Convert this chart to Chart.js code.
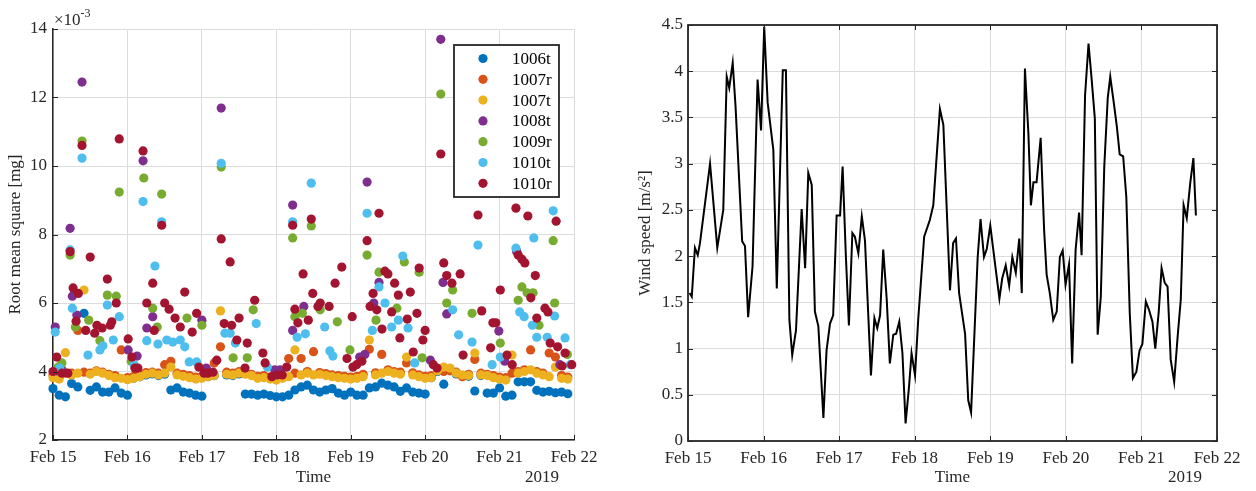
<!DOCTYPE html>
<html>
<head>
<meta charset="utf-8">
<script src="https://cdn.jsdelivr.net/npm/chart.js@4.4.1/dist/chart.umd.min.js"></script>
<style>
  html, body { margin: 0; padding: 0; background: #fff; }
  #wrap { position: relative; width: 1256px; height: 491px; }
  canvas { position: absolute; top: 0; }
  #rms { left: 0; }
  #wind { left: 628px; }
</style>
</head>
<body>
<div id="wrap">
  <canvas id="rms" width="628" height="491"></canvas>
  <canvas id="wind" width="628" height="491"></canvas>
</div>
<script>
// ---- data (RMS values are in units of 1e-3 mg, x in days after Feb 15) ----
const sensors = ['1006t', '1007r', '1007t', '1008t', '1009r', '1010t', '1010r'];
const sensorColors = ['#0072BD', '#D95319', '#EDB120', '#7E2F8E', '#77AC30', '#4DBEEE', '#A2142F'];
const dayLabels = ['Feb 15', 'Feb 16', 'Feb 17', 'Feb 18', 'Feb 19', 'Feb 20', 'Feb 21', 'Feb 22'];

// 2-hourly samples for the three dense sensors
const bandHours = [0,2,4,6,8,10,12,14,16,18,20,22,24,26,28,30,32,34,36,38,40,42,44,46,
  48,50,52,54,56,58,60,62,64,66,68,70,72,74,76,78,80,82,84,86,88,90,92,94,
  96,98,100,102,104,106,108,110,112,114,116,118,120,122,124,126,128,130,132,134,136,138,140,142,
  144,146,148,150,152,154,156,158,160,162,164,166];

const rms1006t = [3.50,3.31,3.26,3.65,3.55,5.70,3.45,3.55,3.40,3.40,3.52,3.37,
  3.31,3.80,3.85,3.90,3.93,3.88,3.92,3.46,3.52,3.40,3.37,3.31,
  3.28,3.85,3.88,null,3.90,3.88,3.93,3.34,3.34,3.31,3.34,3.30,
  3.26,3.26,3.31,3.46,3.55,3.60,3.46,3.40,3.46,3.50,3.37,3.31,
  3.40,3.31,3.31,3.52,3.55,3.66,3.60,3.55,3.42,3.52,3.40,3.37,
  3.34,3.82,4.00,3.63,4.08,3.93,3.88,3.86,3.43,3.88,3.37,3.37,
  3.52,3.28,3.31,3.70,3.70,3.70,3.45,3.40,3.42,3.38,3.40,3.35];

const rms1007r = [3.90,3.85,3.95,3.95,5.20,3.98,3.95,4.02,3.98,3.92,3.88,4.63,
  3.82,3.86,3.92,3.97,3.98,3.95,4.20,4.30,3.95,3.92,3.88,3.84,
  3.86,3.92,4.25,4.72,3.98,3.95,4.00,3.96,3.92,3.86,3.88,3.84,
  3.82,3.86,4.38,3.95,4.38,4.00,4.58,3.97,3.94,3.90,3.88,3.86,
  3.84,3.86,3.92,4.65,3.96,4.50,4.05,4.00,3.98,4.25,3.96,3.90,
  3.86,3.88,4.05,4.00,4.02,3.98,3.85,3.92,4.35,3.95,3.92,3.88,
  3.84,3.82,3.95,4.00,4.05,4.63,4.00,3.95,4.54,4.42,3.88,3.84];

const rms1007t = [3.82,3.78,4.55,3.90,3.95,6.38,3.92,4.00,3.95,3.88,3.82,3.80,
  3.76,3.80,3.85,3.92,3.95,3.90,3.95,4.13,3.90,3.86,3.82,3.78,
  3.80,3.85,3.88,5.77,3.92,3.90,3.95,3.92,3.88,3.80,3.82,3.78,
  3.75,3.80,3.85,4.63,3.90,3.95,3.90,3.92,3.88,3.85,3.82,3.80,
  3.78,3.80,3.85,4.92,3.90,3.95,4.00,3.95,3.92,4.42,3.90,3.85,
  3.80,3.82,4.02,4.13,4.10,3.95,3.90,3.88,4.54,3.90,3.88,3.82,
  3.78,3.75,4.48,3.95,4.00,4.05,3.95,3.90,3.85,4.13,3.80,3.78];

// sparse sensors: time (days) and value
const days1008t = [0.03,0.05,0.12,0.23,0.26,0.32,0.39,1.01,1.13,1.21,1.26,1.34,2.00,2.06,2.26,
  2.98,3.05,3.22,3.22,3.37,4.12,4.19,4.22,4.31,4.38,5.07,5.21,5.24,5.29,5.99,6.07,6.23,6.81];
const rms1008t = [5.30,4.02,4.05,8.18,6.20,5.65,12.45,4.63,4.45,10.15,5.27,5.60,5.50,4.10,11.69,
  4.05,4.05,8.86,5.20,5.90,4.42,4.50,9.53,6.00,6.60,4.33,13.70,6.60,5.68,5.18,4.30,7.50,4.20];

const days1009r = [0.07,0.12,0.23,0.30,0.39,0.48,0.63,0.73,0.85,0.89,1.05,1.22,1.34,1.40,1.46,
  1.80,2.00,2.26,2.42,2.61,2.69,3.22,3.25,3.35,3.47,3.59,3.82,3.99,4.22,4.34,4.38,4.62,4.72,
  4.92,4.96,5.21,5.29,5.37,5.63,6.01,6.25,6.30,6.37,6.45,6.53,6.72,6.74,6.91];
const rms1009r = [4.13,4.25,7.40,5.30,10.73,5.50,4.90,6.23,6.20,9.24,4.30,9.65,5.85,5.30,9.18,
  5.56,5.35,9.97,4.40,4.40,5.80,7.90,5.60,5.70,8.25,5.80,5.45,4.63,7.40,5.50,6.90,5.85,7.20,
  6.90,4.40,12.10,6.00,6.38,5.70,4.83,6.08,6.47,6.30,6.30,5.35,7.82,6.00,4.50];

const days1010t = [0.03,0.09,0.23,0.26,0.39,0.47,0.63,0.67,0.73,0.81,0.89,1.09,1.21,1.26,1.37,
  1.41,1.46,1.53,1.61,1.71,1.77,1.83,1.93,2.26,2.31,2.38,2.45,2.73,2.88,3.22,3.28,3.39,3.47,
  3.65,3.72,3.76,4.22,4.29,4.38,4.46,4.55,4.64,4.70,4.77,4.86,5.37,5.45,5.63,5.71,5.90,6.01,
  6.22,6.27,6.33,6.44,6.46,6.50,6.64,6.72,6.74,6.88,6.95];
const rms1010t = [5.15,4.10,7.55,5.85,10.23,4.48,4.63,4.75,5.94,4.92,5.60,4.20,8.96,4.90,7.08,
  4.80,8.37,4.92,4.86,4.92,4.72,4.28,4.28,10.08,5.12,5.12,4.83,5.40,4.13,8.37,5.00,5.10,9.50,
  5.30,4.60,4.45,8.62,5.20,6.47,6.00,5.30,5.50,7.37,5.27,4.25,5.80,5.07,4.86,7.69,4.20,4.42,
  7.60,5.74,5.60,5.35,7.90,5.00,5.00,8.69,5.62,4.98,4.20];

const days1010r = [0.00,0.05,0.12,0.20,0.23,0.27,0.31,0.34,0.39,0.44,0.50,0.56,0.59,0.66,0.73,
  0.77,0.79,0.85,0.89,1.01,1.06,1.10,1.14,1.21,1.26,1.34,1.36,1.46,1.50,1.56,1.64,1.71,1.77,
  1.87,1.93,1.96,2.03,2.08,2.15,2.20,2.26,2.30,2.38,2.40,2.47,2.50,2.58,2.61,2.71,2.82,2.85,
  2.94,3.01,3.08,3.14,3.22,3.25,3.29,3.36,3.43,3.47,3.49,3.56,3.59,3.71,3.79,3.88,3.95,4.02,
  4.03,4.08,4.15,4.22,4.26,4.30,4.35,4.38,4.42,4.46,4.50,4.55,4.59,4.64,4.66,4.76,4.80,4.84,
  4.89,4.92,4.97,5.00,5.11,5.16,5.21,5.25,5.29,5.36,5.47,5.51,5.71,5.76,5.88,5.91,5.95,6.01,
  6.10,6.17,6.22,6.25,6.30,6.34,6.38,6.42,6.48,6.50,6.61,6.65,6.68,6.76,6.78,6.84,6.88,6.97];
const rms1010r = [4.00,4.42,3.95,3.95,7.50,6.44,5.47,6.28,10.60,5.20,7.34,5.12,5.35,5.27,6.70,
  5.35,5.45,6.00,10.79,4.95,4.42,4.10,4.10,10.44,6.00,6.58,5.20,8.27,6.00,5.82,5.56,5.30,6.32,
  5.15,5.70,4.13,3.95,3.95,3.98,4.33,7.87,5.40,7.20,5.35,4.92,5.56,4.10,4.83,6.08,4.54,4.25,
  3.85,3.90,3.90,4.13,8.27,5.82,5.42,6.85,5.50,8.45,6.28,5.90,6.00,5.90,6.58,7.05,4.38,5.60,
  4.13,4.20,4.30,7.82,5.90,6.28,5.80,8.62,5.24,6.93,6.85,5.74,6.58,6.23,4.98,5.53,6.32,4.57,
  5.70,7.02,4.92,5.20,4.20,4.10,10.35,7.17,6.80,6.58,6.85,4.48,8.57,5.77,4.69,5.42,5.42,6.38,
  4.48,4.20,8.77,7.40,7.28,7.17,8.54,6.15,6.80,5.56,5.85,5.74,4.83,8.39,4.72,4.16,4.54,4.20];

// wind speed: time (hours after Feb 15 00:00) and value
const windHours = [0.5,1.2,2.2,3.1,3.8,7.0,9.3,11.2,12.3,13.1,14.2,15.1,17.2,18.1,19.1,20.5,22.1,23.2,
  24.2,25.3,27.1,28.2,30.1,31.1,32.2,33.1,34.3,36.1,37.2,38.2,39.3,40.3,41.4,43.0,44.0,45.1,46.1,47.2,
  48.3,49.1,50.1,51.1,52.2,53.0,54.1,55.2,56.2,58.1,59.2,60.1,61.0,62.0,63.1,64.1,65.2,66.1,67.1,68.1,
  69.1,70.2,71.0,72.1,73.1,75.0,76.8,77.9,80.0,81.1,83.2,84.2,85.1,86.1,88.0,89.0,89.9,92.0,92.9,94.0,
  94.9,96.0,97.5,98.9,99.8,100.9,102.0,103.0,104.1,105.2,106.0,107.0,108.1,108.9,109.7,110.7,112.0,
  113.1,113.9,114.9,116.0,117.1,118.1,119.0,119.9,121.0,122.0,123.1,124.2,125.0,126.1,127.2,128.2,
  129.2,130.1,131.1,132.2,133.3,134.1,135.1,136.2,137.1,138.2,139.2,140.3,141.3,142.4,143.4,144.3,
  145.4,146.4,147.5,148.4,149.5,150.4,151.4,152.3,153.3,154.4,155.5,156.5,157.4,158.4,159.5,160.5,161.3];
const windSpeed = [1.60,1.56,2.09,2.01,2.14,3.00,2.09,2.50,3.94,3.82,4.09,3.62,2.16,2.11,1.34,1.89,3.91,3.36,
  4.48,3.66,3.15,1.65,4.01,4.01,1.31,0.93,1.20,2.51,1.87,2.90,2.77,1.40,1.24,0.25,0.98,1.27,1.36,2.44,
  2.44,2.97,2.03,1.25,2.25,2.21,2.03,2.43,2.17,0.71,1.33,1.22,1.36,2.07,1.54,0.84,1.15,1.16,1.29,0.95,
  0.19,0.59,0.95,0.71,1.31,2.21,2.39,2.55,3.59,3.42,1.63,2.14,2.19,1.60,1.16,0.44,0.31,1.99,2.40,1.99,
  2.08,2.33,1.92,1.54,1.76,1.90,1.68,1.99,1.82,2.19,1.60,4.03,3.33,2.55,2.80,2.80,3.28,
  2.28,1.80,1.60,1.31,1.40,1.99,2.06,1.69,1.91,0.84,2.07,2.47,2.01,3.74,4.30,3.91,
  3.49,1.15,1.56,2.97,3.71,3.94,3.69,3.40,3.10,3.08,2.64,1.38,0.68,0.75,0.98,1.05,
  1.51,1.42,1.29,1.00,1.40,1.87,1.71,1.67,0.88,0.64,1.13,1.53,2.55,2.41,2.79,3.06,2.44];

// ---- helpers ----
const serif = "'Liberation Serif', 'Times New Roman', serif";
Chart.defaults.font.family = serif;
Chart.defaults.font.size = 17;
Chart.defaults.color = '#262626';

const gridColor = '#dcdcdc';
const axisColor = '#262626';

function points(xs, ys) {
  const out = [];
  xs.forEach((x, i) => { if (ys[i] != null) out.push({ x: x, y: ys[i] }); });
  return out;
}

const bandDays = bandHours.map(h => h / 24);
const seriesXY = [
  points(bandDays, rms1006t),
  points(bandDays, rms1007r),
  points(bandDays, rms1007t),
  points(days1008t, rms1008t),
  points(days1009r, rms1009r),
  points(days1010t, rms1010t),
  points(days1010r, rms1010r)
];

// inward tick marks like matlab
function drawTicks(chart, sides, len) {
  const { ctx, chartArea: a, scales } = chart;
  ctx.save();
  ctx.strokeStyle = axisColor;
  ctx.lineWidth = 1;
  ctx.beginPath();
  scales.x.ticks.forEach(t => {
    const px = Math.round(scales.x.getPixelForValue(t.value)) + 0.5;
    if (sides.includes('bottom')) { ctx.moveTo(px, a.bottom); ctx.lineTo(px, a.bottom - len); }
    if (sides.includes('top')) { ctx.moveTo(px, a.top); ctx.lineTo(px, a.top + len); }
  });
  scales.y.ticks.forEach(t => {
    const py = Math.round(scales.y.getPixelForValue(t.value)) + 0.5;
    if (sides.includes('left')) { ctx.moveTo(a.left, py); ctx.lineTo(a.left + len, py); }
    if (sides.includes('right')) { ctx.moveTo(a.right, py); ctx.lineTo(a.right - len, py); }
  });
  ctx.stroke();
  ctx.restore();
}

function drawYear(chart) {
  const { ctx, chartArea: a } = chart;
  ctx.save();
  ctx.font = '17px ' + serif;
  ctx.fillStyle = axisColor;
  ctx.textAlign = 'right';
  ctx.textBaseline = 'middle';
  ctx.fillText('2019', a.right - 15, 478);
  ctx.restore();
}

const rmsDecor = {
  id: 'rmsDecor',
  afterDraw(chart) {
    const { ctx, chartArea: a } = chart;
    drawTicks(chart, ['left', 'bottom'], 5);
    drawYear(chart);

    // exponent label
    ctx.save();
    ctx.fillStyle = axisColor;
    ctx.textBaseline = 'alphabetic';
    ctx.font = '17px ' + serif;
    ctx.fillText('\u00d710', a.left + 1, 25);
    const w = ctx.measureText('\u00d710').width;
    ctx.font = '12px ' + serif;
    ctx.fillText('-3', a.left + 1 + w, 17);
    ctx.restore();

    // boxed legend inside the axes
    const x0 = a.right - 120, y0 = a.top + 16, bw = 105, bh = 152;
    ctx.save();
    ctx.fillStyle = '#fff';
    ctx.fillRect(x0, y0, bw, bh);
    ctx.strokeStyle = axisColor;
    ctx.lineWidth = 1.8;
    ctx.strokeRect(x0, y0, bw, bh);
    ctx.font = '17px ' + serif;
    ctx.textBaseline = 'middle';
    ctx.textAlign = 'left';
    chart.data.datasets.forEach((ds, i) => {
      const ry = y0 + 13.5 + i * 20.8;
      ctx.beginPath();
      ctx.fillStyle = ds.backgroundColor;
      ctx.arc(x0 + 29, ry, 4.6, 0, Math.PI * 2);
      ctx.fill();
      ctx.fillStyle = '#000';
      ctx.fillText(ds.label, x0 + 58, ry + 1);
    });
    ctx.restore();
  }
};

const windDecor = {
  id: 'windDecor',
  afterDraw(chart) {
    const { ctx, chartArea: a } = chart;
    drawTicks(chart, ['left', 'bottom', 'top', 'right'], 5);
    ctx.save();
    ctx.strokeStyle = axisColor;
    ctx.lineWidth = 1.8;
    ctx.strokeRect(a.left, a.top, a.right - a.left, a.bottom - a.top);
    ctx.restore();
    drawYear(chart);
  }
};

const xAxis = (h) => ({
  type: 'linear',
  min: 0,
  max: 7,
  ticks: { stepSize: 1, padding: 7, maxRotation: 0, autoSkip: false, callback: v => dayLabels[v] },
  grid: { color: gridColor, lineWidth: 1, drawTicks: false },
  title: { display: true, text: 'Time', padding: { top: 0, bottom: 3 } },
  afterFit: s => { s.height = h; }
});

// ---- left: RMS scatter ----
new Chart(document.getElementById('rms'), {
  type: 'scatter',
  data: {
    datasets: sensors.map((name, i) => ({
      label: name,
      data: seriesXY[i],
      backgroundColor: sensorColors[i],
      borderWidth: 0,
      pointRadius: 4.6,
      pointHoverRadius: 4.6,
      order: sensors.length - 1 - i,
      clip: false
    }))
  },
  options: {
    responsive: false,
    animation: false,
    devicePixelRatio: 1,
    layout: { padding: { top: 29, right: 54, left: 0, bottom: 0 } },
    plugins: { legend: { display: false }, tooltip: { enabled: false } },
    scales: {
      x: Object.assign(xAxis(51), { border: { color: axisColor, width: 1.5 } }),
      y: {
        min: 2,
        max: 14,
        ticks: { stepSize: 2, padding: 6 },
        grid: { color: gridColor, lineWidth: 1, drawTicks: false },
        border: { color: axisColor, width: 1.5 },
        title: { display: true, text: 'Root mean square [mg]', padding: { top: 5, bottom: 0 } },
        afterFit: s => { s.width = 53; }
      }
    }
  },
  plugins: [rmsDecor]
});

// ---- right: wind speed line ----
new Chart(document.getElementById('wind'), {
  type: 'line',
  data: {
    datasets: [{
      label: 'Wind speed',
      data: windHours.map((h, i) => ({ x: h / 24, y: windSpeed[i] })),
      borderColor: '#000',
      borderWidth: 2,
      pointRadius: 0,
      tension: 0,
      fill: false
    }]
  },
  options: {
    responsive: false,
    animation: false,
    devicePixelRatio: 1,
    layout: { padding: { top: 25, right: 39, left: 0, bottom: 0 } },
    plugins: { legend: { display: false }, tooltip: { enabled: false } },
    scales: {
      x: Object.assign(xAxis(50), { border: { display: false } }),
      y: {
        min: 0,
        max: 4.5,
        ticks: { stepSize: 0.5, padding: 5, callback: v => String(Math.round(v * 10) / 10) },
        grid: { color: gridColor, lineWidth: 1, drawTicks: false },
        border: { display: false },
        title: { display: true, text: 'Wind speed [m/s\u00b2]', padding: { top: 7, bottom: 0 } },
        afterFit: s => { s.width = 60; }
      }
    }
  },
  plugins: [windDecor]
});
</script>
</body>
</html>
